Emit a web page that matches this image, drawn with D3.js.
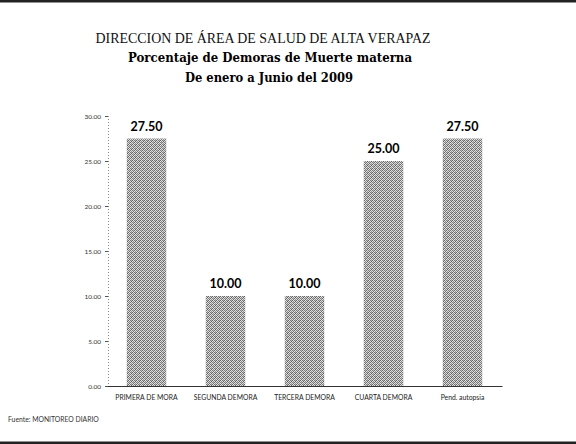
<!DOCTYPE html>
<html><head><meta charset="utf-8">
<script src="https://cdn.jsdelivr.net/npm/d3@7"></script>
<style>body{margin:0;background:#fff}svg{display:block}</style>
</head><body>
<script>
const categories = ["PRIMERA DE MORA", "SEGUNDA DEMORA", "TERCERA DEMORA", "CUARTA DEMORA", "Pend. autopsia"];
const values = [27.50, 10.00, 10.00, 25.00, 27.50];
const yTicks = [0, 5, 10, 15, 20, 25, 30];
const titles = ["DIRECCION DE ÁREA DE SALUD DE ALTA VERAPAZ", "Porcentaje de Demoras de Muerte materna", "De enero a Junio  del 2009"];
const source = "Fuente:  MONITOREO DIARIO";

const W = 576, H = 444;
const svg = d3.select("body").append("svg").attr("width", W).attr("height", H);
svg.append("rect").attr("width", W).attr("height", H).attr("fill", "#fff");

const defs = svg.append("defs");
const pat = defs.append("pattern").attr("id", "dither").attr("width", 4).attr("height", 4).attr("patternUnits", "userSpaceOnUse");
pat.append("rect").attr("width", 4).attr("height", 4).attr("fill", "#e2e2e2");
const dots = [[0,0,"#666"],[2,0,"#777"],[1,1,"#8a8a8a"],[3,1,"#5e5e5e"],[0,2,"#7c7c7c"],[2,2,"#6a6a6a"],[1,3,"#737373"],[3,3,"#909090"],[3,0,"#b5b5b5"],[1,2,"#bdbdbd"]];
dots.forEach(([px, py, c]) => pat.append("rect").attr("x", px).attr("y", py).attr("width", 1).attr("height", 1).attr("fill", c));

// borders
svg.append("rect").attr("x", 0).attr("y", 0).attr("width", W).attr("height", 2.5).attr("fill", "#222");
svg.append("rect").attr("x", 0).attr("y", 441.5).attr("width", W).attr("height", 2.5).attr("fill", "#222");

// titles
svg.append("text").attr("x", 263).attr("y", 43).attr("text-anchor", "middle")
  .attr("font-family", "Liberation Serif").attr("font-size", 15.5).attr("fill", "#111")
  .attr("textLength", 335).attr("lengthAdjust", "spacingAndGlyphs").text(titles[0]);
svg.append("text").attr("x", 270).attr("y", 62).attr("text-anchor", "middle")
  .attr("font-family", "DejaVu Serif").attr("font-weight", "bold").attr("font-size", 13.5).attr("fill", "#000")
  .attr("textLength", 284).attr("lengthAdjust", "spacingAndGlyphs").text(titles[1]);
svg.append("text").attr("x", 269).attr("y", 82).attr("text-anchor", "middle")
  .attr("font-family", "DejaVu Serif").attr("font-weight", "bold").attr("font-size", 13.5).attr("fill", "#000")
  .attr("textLength", 168).attr("lengthAdjust", "spacingAndGlyphs").text(titles[2]);

const x = d3.scaleBand().domain(categories).range([107, 502]).paddingInner(0.5).paddingOuter(0.25);
const y = d3.scaleLinear().domain([0, 30]).range([386, 116]);

// y axis (dotted)
const yAxis = svg.append("g").attr("transform", "translate(108,0)")
  .call(d3.axisLeft(y).tickValues(yTicks).tickFormat(d3.format(".2f")).tickSize(3).tickPadding(4));
yAxis.select(".domain").attr("stroke", "#888").attr("stroke-dasharray", "1,2");
yAxis.selectAll(".tick line").attr("stroke", "#555");
yAxis.selectAll("text").attr("font-family", "Lato").attr("font-size", 6.5).attr("fill", "#333");

// bars
svg.selectAll(".bar").data(values).join("rect")
  .attr("x", (d, i) => x(categories[i])).attr("width", x.bandwidth())
  .attr("y", d => y(d)).attr("height", d => y(0) - y(d))
  .attr("fill", "url(#dither)");

// x axis baseline
const xAxis = svg.append("g").attr("transform", `translate(0,${y(0)})`)
  .call(d3.axisBottom(x).tickSize(0).tickPadding(9));
xAxis.select(".domain").attr("stroke", "#333").attr("stroke-width", 1);
xAxis.selectAll("text").attr("font-family", "Lato").attr("font-size", 6.8).attr("fill", "#222");

// value labels
svg.selectAll(".val").data(values).join("text")
  .attr("x", (d, i) => x(categories[i]) + x.bandwidth() / 2)
  .attr("y", d => y(d) - 8).attr("text-anchor", "middle")
  .attr("font-family", "Lato").attr("font-weight", "bold").attr("font-size", 12.5).attr("fill", "#000")
  .text(d => d3.format(".2f")(d));

svg.append("text").attr("x", 8).attr("y", 422).attr("font-family", "Lato").attr("font-size", 6.8).attr("fill", "#333").text(source);
</script>
</body></html>
